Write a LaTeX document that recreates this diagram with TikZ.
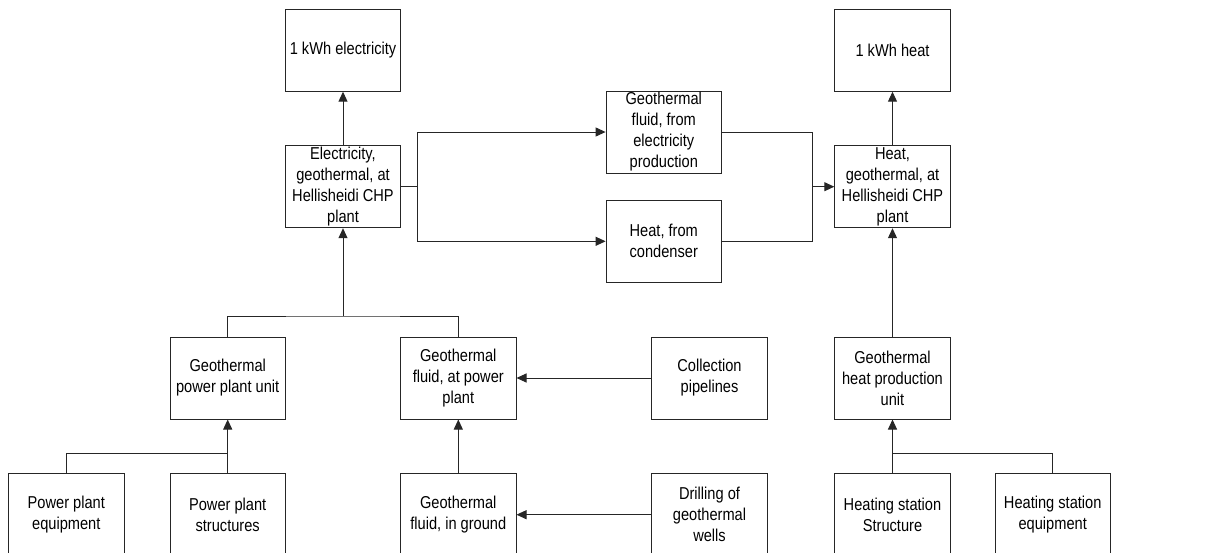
\documentclass[tikz,border=0pt]{standalone}
\usepackage{fontspec}
\setmainfont{Liberation Sans}[FakeStretch=0.85]
\usetikzlibrary{arrows.meta}
\begin{document}
\begin{tikzpicture}[x=1pt,y=-1pt,
  box/.style={draw=black!85,line width=1pt,minimum width=115.4pt,minimum height=82pt,inner sep=0pt,align=center,font=\fontsize{17.2}{21}\selectfont},
  conn/.style={draw=black!85,line width=1pt},
  arr/.style={conn,-{Triangle[length=10pt,width=9pt]}}]
\useasboundingbox (0,0) rectangle (1205,552);
\begin{scope}
\clip (0,0) rectangle (1205,552);
\node[box] (e1) at (343,50.2) {1 kWh electricity};
\node[box] (elec) at (343,186.7) {Electricity,\\geothermal, at\\Hellisheidi CHP\\plant};
\node[box] (gff) at (663.8,132) {Geothermal\\fluid, from\\electricity\\production};
\node[box] (hfc) at (663.8,241.3) {Heat, from\\condenser};
\node[box] (h1) at (892.5,50.2) {1 kWh heat};
\node[box] (heat) at (892.5,186.7) {Heat,\\geothermal, at\\Hellisheidi CHP\\plant};
\node[box] (gppu) at (227.7,378) {Geothermal\\power plant unit};
\node[box] (gfpp) at (458.3,378) {Geothermal\\fluid, at power\\plant};
\node[box] (cp) at (709.5,378) {Collection\\pipelines};
\node[box] (ghpu) at (892.5,378) {Geothermal\\heat production\\unit};
\node[box] (ppe) at (66.3,514.7) {Power plant\\equipment};
\node[box] (pps) at (227.7,514.7) {Power plant\\structures};
\node[box] (gfig) at (458.3,514.7) {Geothermal\\fluid, in ground};
\node[box] (dgw) at (709.5,514.7) {Drilling of\\geothermal\\wells};
\node[box] (hss) at (892.5,514.7) {Heating station\\Structure};
\node[box] (hse) at (1052.7,514.7) {Heating station\\equipment};

\coordinate (j1) at (343,316);
\coordinate (b1) at (417.7,186.7);
\coordinate (m1) at (812.3,186.7);
\coordinate (j2) at (227.7,453.3);
\coordinate (j3) at (892.5,453.3);

\draw[arr] (elec.north) -- (e1.south);
\draw[arr] (heat.north) -- (h1.south);
\draw[conn] (gppu.north) |- (j1) -| (gfpp.north);
\draw[arr] (j1) -- (elec.south);
\draw[conn] (elec.east) -- (b1);
\draw[arr] (b1) |- (gff.west);
\draw[arr] (b1) |- (hfc.west);
\draw[conn] (gff.east) -| (m1);
\draw[conn] (hfc.east) -| (m1);
\draw[arr] (m1) -- (heat.west);
\draw[arr] (ghpu.north) -- (heat.south);
\draw[arr] (cp.west) -- (gfpp.east);
\draw[arr] (gfig.north) -- (gfpp.south);
\draw[arr] (dgw.west) -- (gfig.east);
\draw[conn] (ppe.north) |- (j2);
\draw[arr] (pps.north) -- (gppu.south);
\draw[conn] (hse.north) |- (j3);
\draw[arr] (hss.north) -- (ghpu.south);
\end{scope}
\end{tikzpicture}
\end{document}
